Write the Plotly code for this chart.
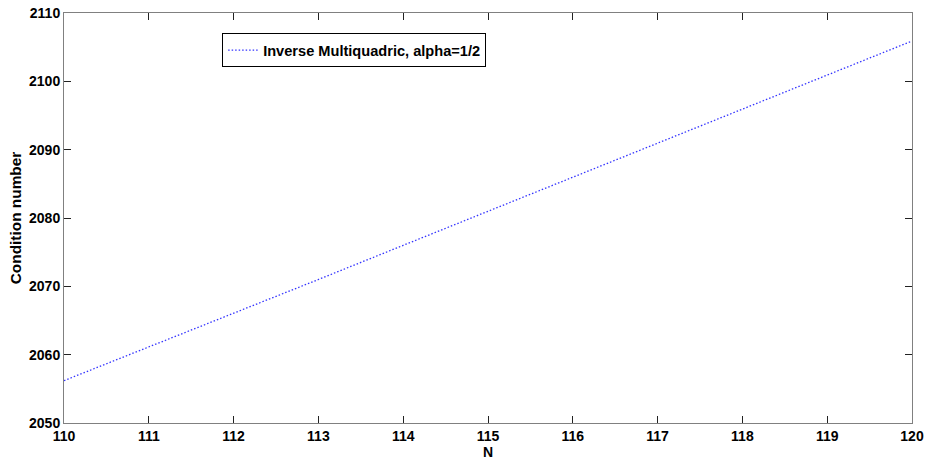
import plotly.graph_objects as go

N = [110, 111, 112, 113, 114, 115, 116, 117, 118, 119, 120]
cond = [2056.2, 2061.1, 2066.0, 2071.0, 2076.0, 2081.0, 2085.9, 2090.9, 2095.9, 2100.9, 2105.9]
series_name = "Inverse Multiquadric, alpha=1/2"
x_ticks = list(range(110, 121))
y_ticks = list(range(2050, 2111, 10))

font = dict(family="Liberation Sans, Arial", size=14, color="black", weight="bold")
legend_font = dict(font, size=14.6)
ytitle_font = dict(font, size=15.4)

fig = go.Figure()
fig.add_trace(go.Scatter(
    x=N, y=cond, mode="lines", name=series_name,
    line=dict(color="#3333ff", width=1.3, dash="1.5px,2px"),
))

axis_common = dict(
    showline=True, linecolor="#808080", linewidth=1, mirror="ticks",
    ticks="inside", ticklen=7, tickcolor="#222222", tickwidth=1,
    showgrid=False, zeroline=False, tickfont=font, automargin=False,
)
fig.update_layout(
    width=927, height=462,
    margin=dict(l=64, r=15, t=13, b=39),
    paper_bgcolor="white", plot_bgcolor="white",
    font=font,
    showlegend=True,
    legend=dict(
        x=0.1865, y=0.951, xanchor="left", yanchor="top",
        bordercolor="black", borderwidth=1, bgcolor="white",
        font=legend_font, itemwidth=30, tracegroupgap=0,
    ),
    xaxis=dict(range=[110, 120], tickvals=x_ticks, ticktext=[str(v) for v in x_ticks],
               title=dict(text="N", font=font, standoff=0), **axis_common),
    yaxis=dict(range=[2050, 2110], tickvals=y_ticks, ticktext=[str(v) for v in y_ticks],
               title=dict(text="Condition number", font=ytitle_font, standoff=3), **axis_common),
)
fig.write_html("out.html")
